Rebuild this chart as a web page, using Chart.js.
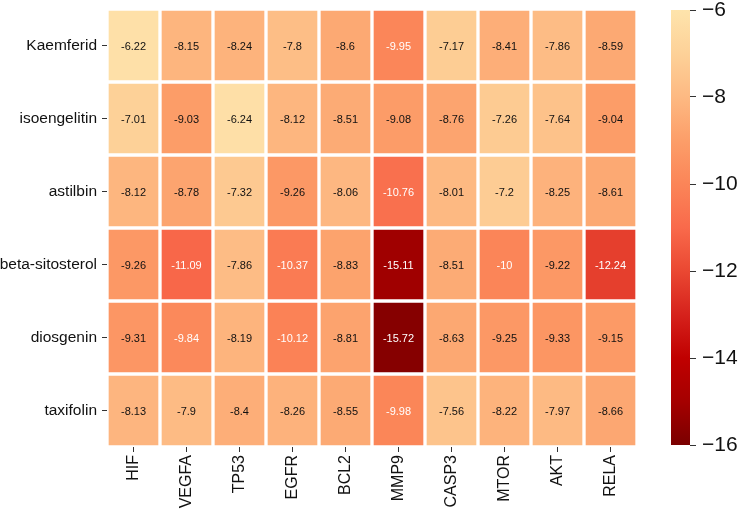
<!DOCTYPE html>
<html>
<head>
<meta charset="utf-8">
<script src="https://cdn.jsdelivr.net/npm/chart.js@4/dist/chart.umd.min.js"></script>
<style>
    body { margin: 0; background: #fff; width: 741px; height: 511px; overflow: hidden; position: relative; }
    #heat-box { position: absolute; left: 0; top: 0; width: 660px; height: 511px; }
    #bar-box { position: absolute; left: 650px; top: 0; width: 91px; height: 511px; }
</style>
</head>
<body>
<div id="heat-box"><canvas id="heat-chart"></canvas></div>
<div id="bar-box"><canvas id="bar-chart"></canvas></div>
<script>
// Data
const genes = ["HIF", "VEGFA", "TP53", "EGFR", "BCL2", "MMP9", "CASP3", "MTOR", "AKT", "RELA"];
const compounds = ["Kaemferid", "isoengelitin", "astilbin", "beta-sitosterol", "diosgenin", "taxifolin"];

const kaemferid = [-6.22, -8.15, -8.24, -7.8, -8.6, -9.95, -7.17, -8.41, -7.86, -8.59];
const isoengelitin = [-7.01, -9.03, -6.24, -8.12, -8.51, -9.08, -8.76, -7.26, -7.64, -9.04];
const astilbin = [-8.12, -8.78, -7.32, -9.26, -8.06, -10.76, -8.01, -7.2, -8.25, -8.61];
const betaSitosterol = [-9.26, -11.09, -7.86, -10.37, -8.83, -15.11, -8.51, -10, -9.22, -12.24];
const diosgenin = [-9.31, -9.84, -8.19, -10.12, -8.81, -15.72, -8.63, -9.25, -9.33, -9.15];
const taxifolin = [-8.13, -7.9, -8.4, -8.26, -8.55, -9.98, -7.56, -8.22, -7.97, -8.66];

const colorbarTicks = [-6, -8, -10, -12, -14, -16];
const colorMin = -16;
const colorMax = -6;

const matrix = [kaemferid, isoengelitin, astilbin, betaSitosterol, diosgenin, taxifolin];

// Colour map (value -> rgb)
const colorStops = [
    [-6, [254, 228, 172]],
    [-7, [253, 209, 152]],
    [-8, [253, 185, 130]],
    [-9, [252, 158, 105]],
    [-10, [251, 133, 88]],
    [-11, [249, 106, 75]],
    [-12, [234, 72, 50]],
    [-13, [214, 34, 28]],
    [-14, [192, 0, 0]],
    [-15, [165, 0, 0]],
    [-16, [122, 0, 0]],
];

function colorFor(v) {
    for (let i = 0; i < colorStops.length - 1; i++) {
        const [v0, c0] = colorStops[i];
        const [v1, c1] = colorStops[i + 1];
        if (v <= v0 && v >= v1) {
            const t = (v0 - v) / (v0 - v1);
            const c = c0.map((x, k) => Math.round(x + (c1[k] - x) * t));
            return `rgb(${c[0]}, ${c[1]}, ${c[2]})`;
        }
    }
    const c = v > -6 ? colorStops[0][1] : colorStops[colorStops.length - 1][1];
    return `rgb(${c[0]}, ${c[1]}, ${c[2]})`;
}

const FONT = "'Liberation Sans', Arial, sans-serif";

// Cell value labels
const cellText = {
    id: 'cellText',
    afterDatasetsDraw(chart) {
        const ctx = chart.ctx;
        ctx.save();
        ctx.font = `11px ${FONT}`;
        ctx.textAlign = 'center';
        ctx.textBaseline = 'middle';
        chart.data.datasets.forEach((ds, r) => {
            chart.getDatasetMeta(r).data.forEach((el, c) => {
                const v = matrix[r][c];
                const p = el.getCenterPoint();
                ctx.fillStyle = v < -9.6 ? '#ffffff' : '#111111';
                ctx.fillText(String(v), p.x, p.y + 1);
            });
        });
        ctx.restore();
    }
};

// Heatmap
function initializeHeatmap() {
    const datasets = matrix.map((row, r) => ({
        label: compounds[r],
        data: row.map(() => [r - 0.5, r + 0.5]),
        backgroundColor: row.map(v => colorFor(v)),
        borderColor: '#ffffff',
        borderWidth: 2,
        borderSkipped: false,
        barPercentage: 1,
        categoryPercentage: 1,
        grouped: false,
    }));

    new Chart(document.getElementById('heat-chart'), {
        type: 'bar',
        data: { labels: genes, datasets },
        options: {
            responsive: true,
            maintainAspectRatio: false,
            animation: false,
            layout: { padding: { top: 9, right: 23, left: 0, bottom: 0 } },
            plugins: { legend: { display: false }, tooltip: { enabled: false } },
            scales: {
                x: {
                    grid: { offset: false, drawOnChartArea: false, tickLength: 5, tickColor: '#333' },
                    border: { display: false },
                    ticks: { color: '#111', font: { family: FONT, size: 16 }, maxRotation: 90, minRotation: 90, padding: 3 },
                    afterFit: s => { s.height = 64; s.paddingLeft = 0; s.paddingRight = 0; },
                },
                y: {
                    type: 'linear',
                    reverse: true,
                    min: -0.5,
                    max: compounds.length - 0.5,
                    grid: { drawOnChartArea: false, tickLength: 5, tickColor: '#333' },
                    border: { display: false },
                    afterBuildTicks: s => { s.ticks = compounds.map((_, i) => ({ value: i })); },
                    ticks: {
                        color: '#111',
                        font: { family: FONT, size: 15.5 },
                        padding: 5,
                        callback: v => compounds[v],
                    },
                    afterFit: s => { s.width = 107; s.paddingTop = 0; s.paddingBottom = 0; },
                },
            },
        },
        plugins: [cellText],
    });
}

// Colour bar
function initializeColorbar() {
    new Chart(document.getElementById('bar-chart'), {
        type: 'bar',
        data: {
            labels: [''],
            datasets: [{
                data: [[colorMin, colorMax]],
                backgroundColor: ctx => {
                    const chart = ctx.chart;
                    if (!chart.chartArea) return '#fff';
                    const yScale = chart.scales.y;
                    const y0 = yScale.getPixelForValue(colorMin);
                    const y1 = yScale.getPixelForValue(colorMax);
                    const g = chart.ctx.createLinearGradient(0, y0, 0, y1);
                    colorStops.forEach(([v]) => {
                        g.addColorStop((v - colorMin) / (colorMax - colorMin), colorFor(v));
                    });
                    return g;
                },
                borderWidth: 0,
                barPercentage: 1,
                categoryPercentage: 1,
            }],
        },
        options: {
            responsive: true,
            maintainAspectRatio: false,
            animation: false,
            layout: { padding: { top: 10, left: 21, right: 0, bottom: 66 } },
            plugins: { legend: { display: false }, tooltip: { enabled: false } },
            scales: {
                x: { display: false },
                y: {
                    position: 'right',
                    min: colorMin,
                    max: colorMax,
                    grid: { drawOnChartArea: false, tickLength: 6, tickColor: '#333' },
                    border: { display: false },
                    afterBuildTicks: s => { s.ticks = colorbarTicks.map(v => ({ value: v })); },
                    ticks: {
                        color: '#111',
                        font: { family: FONT, size: 21 },
                        padding: 6,
                        callback: v => '\u2212' + Math.abs(v),
                    },
                    afterFit: s => { s.width = 51; s.paddingTop = 0; s.paddingBottom = 0; },
                },
            },
        },
    });
}

// Initialize
document.addEventListener('DOMContentLoaded', () => {
    initializeHeatmap();
    initializeColorbar();
});
</script>
</body>
</html>
